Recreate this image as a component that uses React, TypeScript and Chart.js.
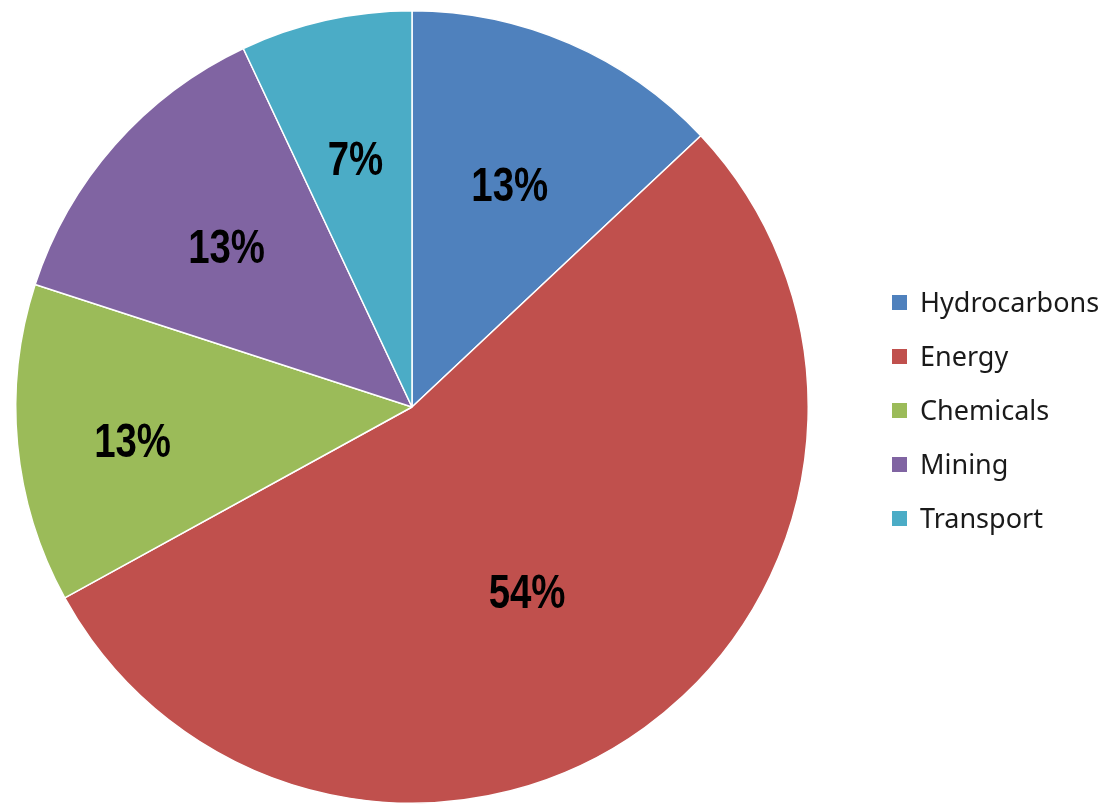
import React, { useEffect, useRef } from "react";
import { Chart, registerables } from "chart.js";

Chart.register(...registerables);

const categories = ["Hydrocarbons", "Energy", "Chemicals", "Mining", "Transport"];
const values = [13, 54, 13, 13, 7];
const colors = ["#4F81BD", "#C0504D", "#9BBB59", "#8064A2", "#4BACC6"];
const labelRadius = [0.614, 0.548, 0.71, 0.62, 0.645];
const labelAngleShift = [0.3, 4.0, -1.3, -0.4, -0.2];

const labelPlugin = {
  id: "sliceLabels",
  afterDatasetsDraw(chart: any) {
    const ctx = chart.ctx;
    const meta = chart.getDatasetMeta(0);
    const total = values.reduce((a, b) => a + b, 0);
    ctx.save();
    ctx.font = "bold 48px 'Liberation Sans', Arial, sans-serif";
    ctx.fillStyle = "#000";
    ctx.textAlign = "center";
    ctx.textBaseline = "alphabetic";
    meta.data.forEach((arc: any, i: number) => {
      const p = arc.getProps(["x", "y", "startAngle", "endAngle", "outerRadius"], true);
      const mid = (p.startAngle + p.endAngle) / 2 + (labelAngleShift[i] * Math.PI) / 180;
      const r = p.outerRadius * labelRadius[i];
      const x = p.x + Math.cos(mid) * r;
      const y = p.y + Math.sin(mid) * r;
      const pct = Math.round((values[i] / total) * 100) + "%";
      ctx.save();
      ctx.translate(x, y + 17);
      ctx.scale(0.8, 1);
      ctx.fillText(pct, 0, 0);
      ctx.restore();
    });
    ctx.restore();
  },
};

export default function App() {
  const ref = useRef<HTMLCanvasElement>(null);
  useEffect(() => {
    document.body.style.margin = "0";
    const chart = new Chart(ref.current!, {
      type: "pie",
      data: {
        labels: categories,
        datasets: [
          {
            data: values,
            backgroundColor: colors,
            borderColor: "#ffffff",
            borderWidth: 1.5,
          },
        ],
      },
      options: {
        animation: false,
        responsive: false,
        maintainAspectRatio: false,
        layout: { padding: { left: 15, top: 10, right: 308, bottom: 4 } },
        plugins: { legend: { display: false }, tooltip: { enabled: false } },
      },
      plugins: [labelPlugin],
    });
    return () => chart.destroy();
  }, []);

  return (
    <div style={{ position: "relative", width: 1117, height: 808, background: "#fff" }}>
      <canvas ref={ref} width={1117} height={808} style={{ position: "absolute", left: 0, top: 0 }} />
      <div
        style={{
          position: "absolute",
          left: 892,
          top: 275,
          fontFamily: "'Noto Sans', 'Open Sans', sans-serif",
          fontSize: 27,
          color: "#1a1a1a",
        }}
      >
        {categories.map((c, i) => (
          <div key={c} style={{ display: "flex", alignItems: "center", height: 54 }}>
            <span style={{ display: "inline-block", width: 15, height: 15, background: colors[i], marginRight: 13 }} />
            <span style={{ lineHeight: "54px" }}>{c}</span>
          </div>
        ))}
      </div>
    </div>
  );
}
